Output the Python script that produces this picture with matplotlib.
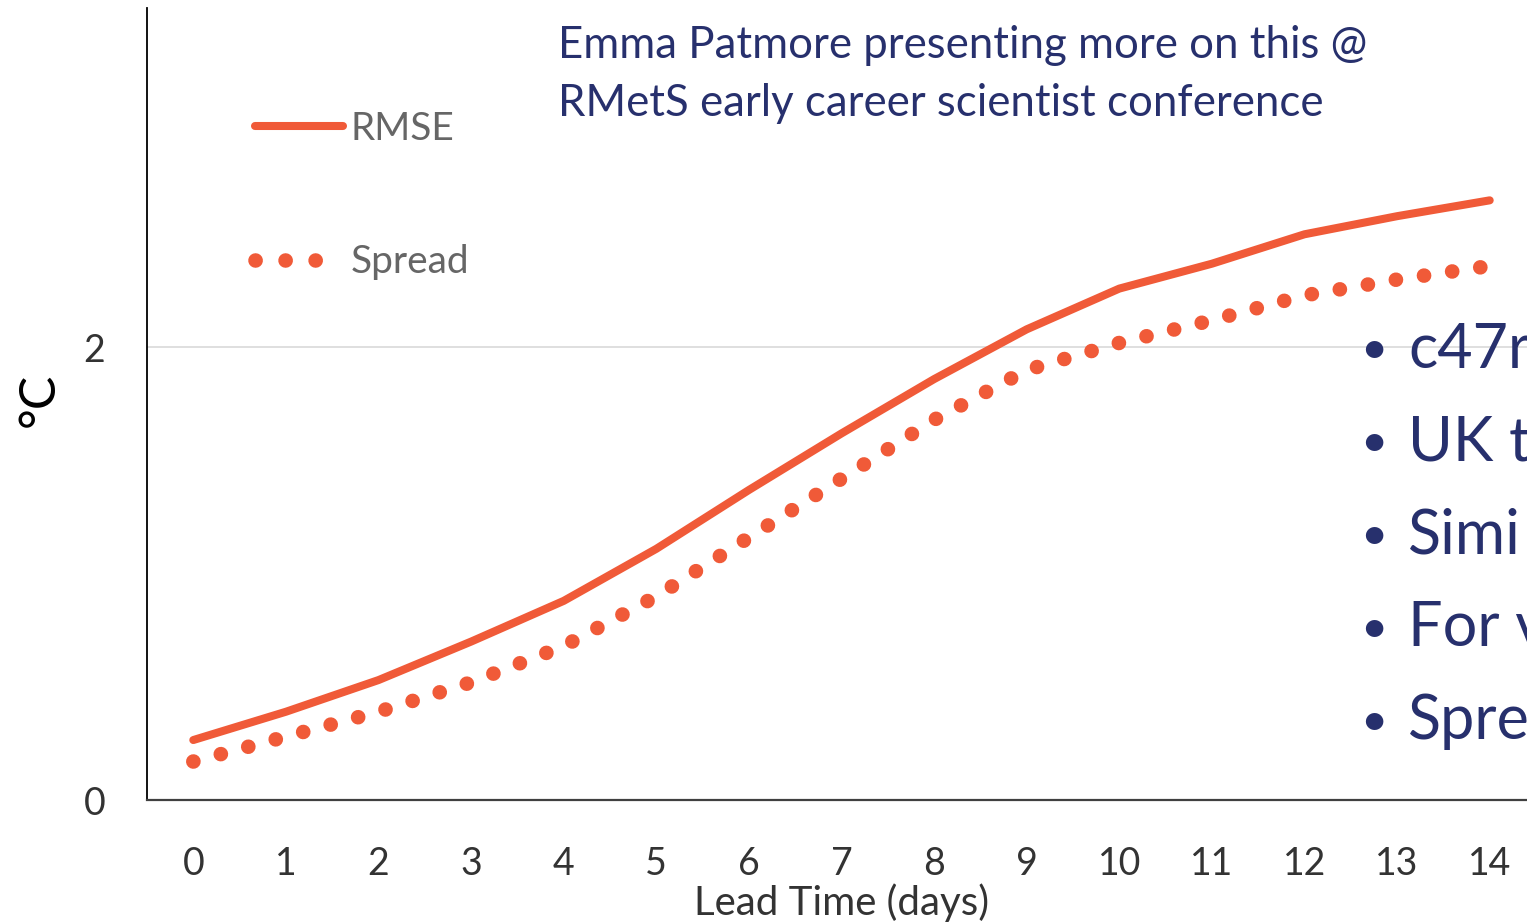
import matplotlib
matplotlib.use("Agg")
from matplotlib import pyplot as plt

lead_days = [0, 1, 2, 3, 4, 5, 6, 7, 8, 9, 10, 11, 12, 13, 14]
rmse = [0.265, 0.39, 0.53, 0.70, 0.88, 1.11, 1.37, 1.62, 1.86, 2.08, 2.26, 2.37, 2.50, 2.58, 2.65]
spread = [0.17, 0.28, 0.39, 0.52, 0.68, 0.90, 1.16, 1.42, 1.68, 1.90, 2.02, 2.12, 2.23, 2.30, 2.36]
y_ticks = [0, 2]

title_lines = ["Emma Patmore presenting more on this @",
               "RMetS early career scientist conference"]
bullets = ["c47r", "UK t", "Simi", "For v", "Spre"]

orange = "#f05a38"
navy = "#27306d"
plt.rcParams["font.family"] = ["Lato", "DejaVu Sans"]

fig = plt.figure(figsize=(15.27, 9.22), dpi=100)
ax = fig.add_axes([147 / 1527, 122 / 922, 1389 / 1527, 792 / 922])

ax.plot(lead_days, rmse, color=orange, lw=5.8, solid_capstyle="round", label="RMSE")
ax.plot(lead_days, spread, color=orange, lw=10.5, linestyle=(0, (0.01, 1.94)),
        dash_capstyle="round", label="Spread")

ax.set_xlim(-0.5, 14.5)
ax.set_ylim(0, 3.5)
ax.set_xticks(lead_days)
ax.set_yticks(y_ticks)
ax.tick_params(length=0, labelsize=27, colors="#333333")
ax.tick_params(axis="x", pad=33)
ax.tick_params(axis="y", pad=30)
ax.grid(axis="y", color="#d9d9d9", lw=1.2)
ax.set_axisbelow(True)
for side in ["top", "right"]:
    ax.spines[side].set_visible(False)
ax.spines["left"].set_color("black")
ax.spines["bottom"].set_color("#404040")
ax.spines["left"].set_linewidth(1.3)
ax.spines["bottom"].set_linewidth(1.6)

ax.set_xlabel("Lead Time (days)", fontsize=29, color="#333333", labelpad=1)
ax.set_ylabel("°C", fontsize=36, color="black", va="center")
ax.yaxis.set_label_coords(-0.077, 0.505)

leg = ax.legend(loc="upper left", bbox_to_anchor=(0.0778, 0.870), frameon=False,
                fontsize=28, handlelength=2.25, handletextpad=0.2, labelspacing=2.5,
                borderpad=0, borderaxespad=0)
leg.get_lines()[1].set_linestyle((0, (0.01, 2.05)))
for t in leg.get_texts():
    t.set_color("#666666")

for i, line in enumerate(title_lines):
    fig.text(558 / 1527, 1 - (46 + i * 58) / 922, line, fontsize=31.5, color=navy,
             va="center", ha="left")
for i, b in enumerate(bullets):
    y = 1 - (350 + i * 93) / 922
    fig.text(1360 / 1527, y, "•", fontsize=34, color=navy, va="center", ha="left")
    fig.text(1408 / 1527, y, b, fontsize=44, color=navy, va="center", ha="left")

fig.savefig("out.png", dpi=100)
